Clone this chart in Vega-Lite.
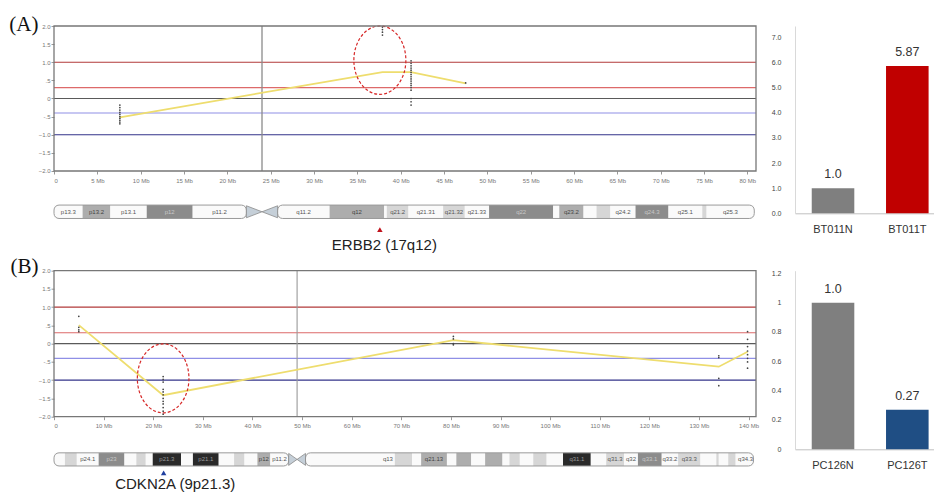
{
  "$schema": "https://vega.github.io/schema/vega-lite/v6.json",
  "padding": {"left": 8, "top": 13, "right": 0, "bottom": 0},
  "columns": 2,
  "bounds": "flush",
  "spacing": {"row": 16.7, "column": 39},
  "resolve": {"scale": {"color": "independent", "fill": "independent", "stroke": "independent", "shape": "independent", "x": "independent", "y": "independent"}},
  "config": {
    "view": {"stroke": null},
    "font": "Liberation Sans",
    "axis": {"grid": false}
  },
  "datasets": {
    "refLines": [
      {"v": 1.0, "kind": "gain2"}, {"v": 0.3, "kind": "gain1"}, {"v": 0, "kind": "zero"},
      {"v": -0.4, "kind": "loss1"}, {"v": -1.0, "kind": "loss2"}
    ],
    "ptsA": [
      {"pos": 7.6, "v": -0.18}, {"pos": 7.6, "v": -0.25}, {"pos": 7.6, "v": -0.32}, {"pos": 7.6, "v": -0.38},
      {"pos": 7.6, "v": -0.44}, {"pos": 7.6, "v": -0.5}, {"pos": 7.6, "v": -0.55}, {"pos": 7.6, "v": -0.6},
      {"pos": 7.6, "v": -0.65}, {"pos": 7.6, "v": -0.7},
      {"pos": 37.9, "v": 1.97}, {"pos": 37.9, "v": 1.9}, {"pos": 37.9, "v": 1.83}, {"pos": 37.9, "v": 1.75},
      {"pos": 41.2, "v": -0.18}, {"pos": 41.2, "v": -0.09}, {"pos": 41.2, "v": 0.0}, {"pos": 41.2, "v": 0.23},
      {"pos": 41.2, "v": 0.3}, {"pos": 41.2, "v": 0.36}, {"pos": 41.2, "v": 0.42}, {"pos": 41.2, "v": 0.48},
      {"pos": 41.2, "v": 0.54}, {"pos": 41.2, "v": 0.6}, {"pos": 41.2, "v": 0.66}, {"pos": 41.2, "v": 0.72},
      {"pos": 41.2, "v": 0.78}, {"pos": 41.2, "v": 0.84}, {"pos": 41.2, "v": 0.9}, {"pos": 41.2, "v": 0.97},
      {"pos": 41.2, "v": 1.04},
      {"pos": 47.5, "v": 0.43}
    ],
    "segA": [
      {"pos": 7.6, "v": -0.52}, {"pos": 37.9, "v": 0.73}, {"pos": 41.2, "v": 0.73}, {"pos": 47.5, "v": 0.42}
    ],
    "ptsB": [
      {"pos": 5.0, "v": 0.75}, {"pos": 5.0, "v": 0.45}, {"pos": 5.0, "v": 0.38}, {"pos": 5.0, "v": 0.33},
      {"pos": 22.0, "v": -0.9}, {"pos": 22.0, "v": -0.98}, {"pos": 22.0, "v": -1.05}, {"pos": 22.0, "v": -1.25},
      {"pos": 22.0, "v": -1.32}, {"pos": 22.0, "v": -1.4}, {"pos": 22.0, "v": -1.5}, {"pos": 22.0, "v": -1.58},
      {"pos": 22.0, "v": -1.65}, {"pos": 22.0, "v": -1.75}, {"pos": 22.0, "v": -1.85}, {"pos": 22.0, "v": -1.93},
      {"pos": 80.5, "v": 0.2}, {"pos": 80.5, "v": 0.13}, {"pos": 80.5, "v": 0.0}, {"pos": 80.5, "v": -0.03},
      {"pos": 134.0, "v": -0.33}, {"pos": 134.0, "v": -0.38}, {"pos": 134.0, "v": -0.95}, {"pos": 134.0, "v": -1.15},
      {"pos": 139.8, "v": 0.33}, {"pos": 139.8, "v": 0.12}, {"pos": 139.8, "v": -0.08}, {"pos": 139.8, "v": -0.2},
      {"pos": 139.8, "v": -0.3}, {"pos": 139.8, "v": -0.4}, {"pos": 139.8, "v": -0.5}, {"pos": 139.8, "v": -0.67}
    ],
    "segB": [
      {"pos": 5.0, "v": 0.51}, {"pos": 22.0, "v": -1.41}, {"pos": 80.5, "v": 0.1}, {"pos": 134.0, "v": -0.63}, {"pos": 139.8, "v": -0.22}
    ],
    "cenLineA": [{"pos": 24.0}],
    "cenLineB": [{"pos": 49.0}],
    "ellA": [{"pos": 37.6, "v": 1.057}],
    "ellB": [{"pos": 22.0, "v": -0.95}],
    "bandsA": [
      {"name": "p13.3", "start": 0, "end": 3.3, "mid": 1.65, "stain": "gneg", "label": "p13.3"},
      {"name": "p13.2", "start": 3.3, "end": 6.5, "mid": 4.9, "stain": "gpos50", "label": "p13.2"},
      {"name": "p13.1", "start": 6.5, "end": 10.7, "mid": 8.6, "stain": "gneg", "label": "p13.1"},
      {"name": "p12", "start": 10.7, "end": 16.0, "mid": 13.35, "stain": "gpos75", "label": "p12"},
      {"name": "p11.2", "start": 16.0, "end": 22.2, "mid": 19.1, "stain": "gneg", "label": "p11.2"},
      {"name": "q11.2", "start": 25.8, "end": 31.8, "mid": 28.8, "stain": "gneg", "label": "q11.2"},
      {"name": "q12", "start": 31.8, "end": 38.1, "mid": 34.95, "stain": "gpos50", "label": "q12"},
      {"name": "q21.1", "start": 38.1, "end": 38.4, "mid": 38.25, "stain": "gneg", "label": ""},
      {"name": "q21.2", "start": 38.4, "end": 40.9, "mid": 39.65, "stain": "gpos25", "label": "q21.2"},
      {"name": "q21.31", "start": 40.9, "end": 44.9, "mid": 42.9, "stain": "gneg", "label": "q21.31"},
      {"name": "q21.32", "start": 44.9, "end": 47.4, "mid": 46.15, "stain": "gpos25", "label": "q21.32"},
      {"name": "q21.33", "start": 47.4, "end": 50.2, "mid": 48.8, "stain": "gneg", "label": "q21.33"},
      {"name": "q22", "start": 50.2, "end": 57.6, "mid": 53.9, "stain": "gpos75", "label": "q22"},
      {"name": "q23.1", "start": 57.6, "end": 58.3, "mid": 57.95, "stain": "gneg", "label": ""},
      {"name": "q23.2", "start": 58.3, "end": 61.1, "mid": 59.7, "stain": "gpos50", "label": "q23.2"},
      {"name": "q23.3", "start": 61.1, "end": 62.6, "mid": 61.85, "stain": "gneg", "label": ""},
      {"name": "q24.1", "start": 62.6, "end": 64.2, "mid": 63.4, "stain": "gpos25", "label": ""},
      {"name": "q24.2", "start": 64.2, "end": 67.1, "mid": 65.65, "stain": "gneg", "label": "q24.2"},
      {"name": "q24.3", "start": 67.1, "end": 70.9, "mid": 69.0, "stain": "gpos75", "label": "q24.3"},
      {"name": "q25.1", "start": 70.9, "end": 74.8, "mid": 72.85, "stain": "gneg", "label": "q25.1"},
      {"name": "q25.2", "start": 74.8, "end": 75.3, "mid": 75.05, "stain": "gpos25", "label": ""},
      {"name": "q25.3", "start": 75.3, "end": 80.8, "mid": 78.05, "stain": "gneg", "label": "q25.3"}
    ],
    "armsA": [{"start": 0, "end": 22.2}, {"start": 25.8, "end": 80.8}],
    "cenA": [{"side": "p", "pos": 23.1}, {"side": "q", "pos": 24.9}],
    "geneA": [{"gene": "ERBB2 (17q12)", "pos": 37.6}],
    "bandsB": [
      {"name": "p24.3", "start": 0, "end": 2.2, "mid": 1.1, "stain": "gneg", "label": ""},
      {"name": "p24.2", "start": 2.2, "end": 4.6, "mid": 3.4, "stain": "gpos25", "label": ""},
      {"name": "p24.1", "start": 4.6, "end": 9.0, "mid": 6.8, "stain": "gneg", "label": "p24.1"},
      {"name": "p23", "start": 9.0, "end": 14.2, "mid": 11.6, "stain": "gpos75", "label": "p23"},
      {"name": "p22.3", "start": 14.2, "end": 16.6, "mid": 15.4, "stain": "gneg", "label": ""},
      {"name": "p22.2", "start": 16.6, "end": 18.5, "mid": 17.55, "stain": "gpos25", "label": ""},
      {"name": "p22.1", "start": 18.5, "end": 19.9, "mid": 19.2, "stain": "gneg", "label": ""},
      {"name": "p21.3", "start": 19.9, "end": 25.6, "mid": 22.75, "stain": "gpos100", "label": "p21.3"},
      {"name": "p21.2", "start": 25.6, "end": 28.0, "mid": 26.8, "stain": "gneg", "label": ""},
      {"name": "p21.1", "start": 28.0, "end": 33.2, "mid": 30.6, "stain": "gpos100", "label": "p21.1"},
      {"name": "p13.3", "start": 33.2, "end": 36.3, "mid": 34.75, "stain": "gneg", "label": ""},
      {"name": "p13.2", "start": 36.3, "end": 38.4, "mid": 37.35, "stain": "gpos25", "label": ""},
      {"name": "p13.1", "start": 38.4, "end": 41.0, "mid": 39.7, "stain": "gneg", "label": ""},
      {"name": "p12", "start": 41.0, "end": 43.6, "mid": 42.3, "stain": "gpos50", "label": "p12"},
      {"name": "p11.2", "start": 43.6, "end": 47.3, "mid": 45.45, "stain": "gneg", "label": "p11.2"},
      {"name": "q12", "start": 50.7, "end": 65.9, "mid": 58.3, "stain": "gneg", "label": ""},
      {"name": "q13", "start": 65.9, "end": 68.7, "mid": 67.3, "stain": "gneg", "label": "q13"},
      {"name": "q21.11", "start": 68.7, "end": 72.2, "mid": 70.45, "stain": "gpos25", "label": ""},
      {"name": "q21.12", "start": 72.2, "end": 74.0, "mid": 73.1, "stain": "gneg", "label": ""},
      {"name": "q21.13", "start": 74.0, "end": 79.2, "mid": 76.6, "stain": "gpos50", "label": "q21.13"},
      {"name": "q21.2", "start": 79.2, "end": 81.1, "mid": 80.15, "stain": "gneg", "label": ""},
      {"name": "q21.31", "start": 81.1, "end": 84.1, "mid": 82.6, "stain": "gpos50", "label": ""},
      {"name": "q21.32", "start": 84.1, "end": 86.9, "mid": 85.5, "stain": "gneg", "label": ""},
      {"name": "q21.33", "start": 86.9, "end": 90.4, "mid": 88.65, "stain": "gpos50", "label": ""},
      {"name": "q22.1", "start": 90.4, "end": 91.8, "mid": 91.1, "stain": "gneg", "label": ""},
      {"name": "q22.2", "start": 91.8, "end": 93.9, "mid": 92.85, "stain": "gpos25", "label": ""},
      {"name": "q22.31", "start": 93.9, "end": 96.6, "mid": 95.25, "stain": "gneg", "label": ""},
      {"name": "q22.32", "start": 96.6, "end": 99.3, "mid": 97.95, "stain": "gpos25", "label": ""},
      {"name": "q22.33", "start": 99.3, "end": 102.6, "mid": 100.95, "stain": "gneg", "label": ""},
      {"name": "q31.1", "start": 102.6, "end": 108.2, "mid": 105.4, "stain": "gpos100", "label": "q31.1"},
      {"name": "q31.2", "start": 108.2, "end": 111.3, "mid": 109.75, "stain": "gneg", "label": ""},
      {"name": "q31.3", "start": 111.3, "end": 114.9, "mid": 113.1, "stain": "gpos25", "label": "q31.3"},
      {"name": "q32", "start": 114.9, "end": 117.7, "mid": 116.3, "stain": "gneg", "label": "q32"},
      {"name": "q33.1", "start": 117.7, "end": 122.5, "mid": 120.1, "stain": "gpos75", "label": "q33.1"},
      {"name": "q33.2", "start": 122.5, "end": 125.8, "mid": 124.15, "stain": "gneg", "label": "q33.2"},
      {"name": "q33.3", "start": 125.8, "end": 130.3, "mid": 128.05, "stain": "gpos25", "label": "q33.3"},
      {"name": "q34.11", "start": 130.3, "end": 133.5, "mid": 131.9, "stain": "gneg", "label": ""},
      {"name": "q34.12", "start": 133.5, "end": 134.0, "mid": 133.75, "stain": "gpos25", "label": ""},
      {"name": "q34.13", "start": 134.0, "end": 135.9, "mid": 134.95, "stain": "gneg", "label": ""},
      {"name": "q34.2", "start": 135.9, "end": 137.4, "mid": 136.65, "stain": "gpos25", "label": ""},
      {"name": "q34.3", "start": 137.4, "end": 141.0, "mid": 139.4, "stain": "gneg", "label": "q34.3"}
    ],
    "armsB": [{"start": 0, "end": 47.3}, {"start": 50.7, "end": 141.0}],
    "cenB": [{"side": "p", "pos": 48.15}, {"side": "q", "pos": 49.85}],
    "geneB": [{"gene": "CDKN2A (9p21.3)", "pos": 22.1}],
    "barsA": [
      {"sample": "BT011N", "value": 1.0, "label": "1.0"},
      {"sample": "BT011T", "value": 5.87, "label": "5.87"}
    ],
    "barsB": [
      {"sample": "PC126N", "value": 1.0, "label": "1.0"},
      {"sample": "PC126T", "value": 0.27, "label": "0.27"}
    ]
  },
  "concat": [
    {
      "width": 702,
      "height": 228,
      "resolve": {"scale": {"fill": "independent", "stroke": "independent", "shape": "independent", "color": "independent"}},
      "encoding": {
        "x": {"type": "quantitative", "scale": {"domain": [0, 81], "nice": false, "zero": false},
          "axis": {"title": null, "values": [0,5,10,15,20,25,30,35,40,45,50,55,60,65,70,75,80],
            "labelExpr": "datum.value === 0 ? '0' : datum.value + ' Mb'", "domain": false, "offset": -83,
            "tickSize": 3, "tickColor": "#999", "labelFontSize": 6, "labelColor": "#777", "labelPadding": 3}},
        "y": {"type": "quantitative", "scale": {"domain": [-4.29, 2], "nice": false, "zero": false},
          "axis": {"title": "(A)", "values": [-2,-1.5,-1,-0.5,0,0.5,1,1.5,2],
            "labelExpr": "datum.value === 0 ? '0' : datum.value === 0.5 ? '.5' : datum.value === -0.5 ? '-.5' : format(datum.value, '.1f')",
            "domain": false, "tickSize": 3, "tickColor": "#999", "labelFontSize": 6, "labelColor": "#777", "labelPadding": 1,
            "titleAngle": 0, "titleFont": "Liberation Serif", "titleFontSize": 21, "titleFontWeight": "normal", "titleColor": "#111",
            "titleAlign": "right", "titleBaseline": "alphabetic", "titleX": -16, "titleY": 4.5}}
      },
      "layer": [
        {"data": {"name": "bandsA"}, "mark": {"type": "rect"},
          "encoding": {"x": {"field": "start"}, "x2": {"field": "end"}, "y": {"datum": -2.94}, "y2": {"datum": -3.31},
            "fill": {"field": "stain", "type": "nominal", "legend": null,
              "scale": {"domain": ["gneg","gpos25","gpos50","gpos75","gpos100"], "range": ["#fafafa","#d6d6d6","#adadad","#8c8c8c","#333333"]}}}},
        {"data": {"name": "bandsA"}, "mark": {"type": "text", "fontSize": 6, "baseline": "middle", "align": "center"},
          "encoding": {"x": {"field": "mid"}, "y": {"datum": -3.125}, "text": {"field": "label"},
            "color": {"field": "stain", "type": "nominal", "legend": null,
              "scale": {"domain": ["gneg","gpos25","gpos50","gpos75","gpos100"], "range": ["#555555","#555555","#444444","#c8c8c8","#999999"]}}}},
        {"data": {"name": "armsA"}, "mark": {"type": "rect", "fill": null, "stroke": "#9a9a9a", "strokeWidth": 1, "cornerRadius": 5},
          "encoding": {"x": {"field": "start"}, "x2": {"field": "end"}, "y": {"datum": -2.94}, "y2": {"datum": -3.31}}},
        {"data": {"name": "cenA"}, "mark": {"type": "point", "filled": true, "fill": "#c5cfd8", "stroke": "#8a8a8a", "strokeWidth": 0.8, "size": 243, "opacity": 1},
          "encoding": {"x": {"field": "pos"}, "y": {"datum": -3.125},
            "shape": {"field": "side", "type": "nominal", "legend": null,
              "scale": {"domain": ["p","q"], "range": ["M -1 -0.77 L 1 0 L -1 0.77 Z", "M 1 -0.77 L -1 0 L 1 0.77 Z"]}}}},
        {"data": {"name": "geneA"}, "mark": {"type": "point", "shape": "triangle-up", "filled": true, "color": "#c0121c", "size": 30, "opacity": 1},
          "encoding": {"x": {"field": "pos"}, "y": {"datum": -3.62}}},
        {"data": {"name": "geneA"}, "mark": {"type": "text", "fontSize": 15, "align": "center", "baseline": "alphabetic", "dx": 4.5, "color": "#222"},
          "encoding": {"x": {"field": "pos"}, "y": {"datum": -4.19}, "text": {"field": "gene"}}},
        {"data": {"name": "refLines"}, "mark": {"type": "rule", "strokeWidth": 1.2},
          "encoding": {"y": {"field": "v"},
            "stroke": {"field": "kind", "type": "nominal", "legend": null,
              "scale": {"domain": ["gain2","gain1","zero","loss1","loss2"], "range": ["#b23a3a","#dd6a6a","#5a5a5a","#8f8fe6","#33338a"]}}}},
        {"data": {"name": "cenLineA"}, "mark": {"type": "rule", "color": "#8a8a8a", "strokeWidth": 1.3},
          "encoding": {"x": {"field": "pos"}, "y": {"datum": 2}, "y2": {"datum": -2}}},
        {"data": {"name": "segA"}, "mark": {"type": "line", "color": "#eedd6e", "strokeWidth": 1.8},
          "encoding": {"x": {"field": "pos"}, "y": {"field": "v"}}},
        {"data": {"name": "ptsA"}, "mark": {"type": "point", "filled": true, "color": "#444", "size": 3, "opacity": 1},
          "encoding": {"x": {"field": "pos"}, "y": {"field": "v"}}},
        {"data": {"name": "ellA"}, "mark": {"type": "point", "filled": false, "color": "#d62828", "strokeWidth": 1.2, "strokeDash": [3, 2], "opacity": 1, "size": 4679,
            "shape": "M -0.76 0 A 0.76 1 0 1 1 0.76 0 A 0.76 1 0 1 1 -0.76 0 Z"},
          "encoding": {"x": {"field": "pos"}, "y": {"field": "v"}}},
        {"data": {"name": "cenLineA"}, "mark": {"type": "rect", "fill": null, "stroke": "#777", "strokeWidth": 1.3},
          "encoding": {"x": {"datum": 0}, "x2": {"datum": 81}, "y": {"datum": 2}, "y2": {"datum": -2}}}
      ]
    },
    {
      "width": 139,
      "height": 187.3,
      "data": {"name": "barsA"},
      "encoding": {
        "x": {"field": "sample", "type": "nominal", "sort": null,
          "scale": {"paddingInner": 0.427, "paddingOuter": 0.149, "align": 0.756},
          "axis": {"title": null, "labelAngle": 0, "labelFontSize": 11, "labelColor": "#333", "ticks": false, "domainColor": "#c0c0c0", "labelPadding": 10}},
        "y": {"field": "value", "type": "quantitative", "scale": {"domain": [0, 7.46], "nice": false},
          "axis": {"title": null, "values": [0,1,2,3,4,5,6,7], "format": ".1f", "labelFontSize": 7, "labelColor": "#444", "ticks": false, "domainColor": "#d9d9d9", "labelPadding": 14}}
      },
      "layer": [
        {"mark": {"type": "bar"},
          "encoding": {"color": {"field": "sample", "type": "nominal", "legend": null,
            "scale": {"domain": ["BT011N","BT011T"], "range": ["#7f7f7f","#c00000"]}}}},
        {"mark": {"type": "text", "fontSize": 12.5, "baseline": "alphabetic", "dy": -10, "color": "#333"},
          "encoding": {"text": {"field": "label"}}}
      ]
    },
    {
      "width": 702,
      "height": 225.2,
      "resolve": {"scale": {"fill": "independent", "stroke": "independent", "shape": "independent", "color": "independent"}},
      "encoding": {
        "x": {"type": "quantitative", "scale": {"domain": [0, 141.5], "nice": false, "zero": false},
          "axis": {"title": null, "values": [0,10,20,30,40,50,60,70,80,90,100,110,120,130,140],
            "labelExpr": "datum.value === 0 ? '0' : datum.value + ' Mb'", "domain": false, "offset": -79.2,
            "tickSize": 3, "tickColor": "#999", "labelFontSize": 6, "labelColor": "#777", "labelPadding": 3}},
        "y": {"type": "quantitative", "scale": {"domain": [-4.17, 2], "nice": false, "zero": false},
          "axis": {"title": "(B)", "values": [-2,-1.5,-1,-0.5,0,0.5,1,1.5,2],
            "labelExpr": "datum.value === 0 ? '0' : datum.value === 0.5 ? '.5' : datum.value === -0.5 ? '-.5' : format(datum.value, '.1f')",
            "domain": false, "tickSize": 3, "tickColor": "#999", "labelFontSize": 6, "labelColor": "#777", "labelPadding": 1,
            "titleAngle": 0, "titleFont": "Liberation Serif", "titleFontSize": 21, "titleFontWeight": "normal", "titleColor": "#111",
            "titleAlign": "right", "titleBaseline": "alphabetic", "titleX": -16, "titleY": 2}}
      },
      "layer": [
        {"data": {"name": "bandsB"}, "mark": {"type": "rect"},
          "encoding": {"x": {"field": "start"}, "x2": {"field": "end"}, "y": {"datum": -2.99}, "y2": {"datum": -3.35},
            "fill": {"field": "stain", "type": "nominal", "legend": null,
              "scale": {"domain": ["gneg","gpos25","gpos50","gpos75","gpos100"], "range": ["#fafafa","#d6d6d6","#adadad","#8c8c8c","#2a2a2a"]}}}},
        {"data": {"name": "bandsB"}, "mark": {"type": "text", "fontSize": 6, "baseline": "middle", "align": "center"},
          "encoding": {"x": {"field": "mid"}, "y": {"datum": -3.17}, "text": {"field": "label"},
            "color": {"field": "stain", "type": "nominal", "legend": null,
              "scale": {"domain": ["gneg","gpos25","gpos50","gpos75","gpos100"], "range": ["#555555","#555555","#444444","#c8c8c8","#999999"]}}}},
        {"data": {"name": "armsB"}, "mark": {"type": "rect", "fill": null, "stroke": "#9a9a9a", "strokeWidth": 1, "cornerRadius": 5},
          "encoding": {"x": {"field": "start"}, "x2": {"field": "end"}, "y": {"datum": -2.99}, "y2": {"datum": -3.35}}},
        {"data": {"name": "cenB"}, "mark": {"type": "point", "filled": true, "fill": "#c5cfd8", "stroke": "#8a8a8a", "strokeWidth": 0.8, "size": 71, "opacity": 1},
          "encoding": {"x": {"field": "pos"}, "y": {"datum": -3.17},
            "shape": {"field": "side", "type": "nominal", "legend": null,
              "scale": {"domain": ["p","q"], "range": ["M -1 -1.42 L 1 0 L -1 1.42 Z", "M 1 -1.42 L -1 0 L 1 1.42 Z"]}}}},
        {"data": {"name": "geneB"}, "mark": {"type": "point", "shape": "triangle-up", "filled": true, "color": "#1f3f9f", "size": 30, "opacity": 1},
          "encoding": {"x": {"field": "pos"}, "y": {"datum": -3.54}}},
        {"data": {"name": "geneB"}, "mark": {"type": "text", "fontSize": 15, "align": "center", "baseline": "alphabetic", "dx": 11.6, "color": "#222"},
          "encoding": {"x": {"field": "pos"}, "y": {"datum": -3.98}, "text": {"field": "gene"}}},
        {"data": {"name": "refLines"}, "mark": {"type": "rule", "strokeWidth": 1.2},
          "encoding": {"y": {"field": "v"},
            "stroke": {"field": "kind", "type": "nominal", "legend": null,
              "scale": {"domain": ["gain2","gain1","zero","loss1","loss2"], "range": ["#b23a3a","#dd6a6a","#5a5a5a","#8f8fe6","#33338a"]}}}},
        {"data": {"name": "cenLineB"}, "mark": {"type": "rule", "color": "#9a9a9a", "strokeWidth": 1.1},
          "encoding": {"x": {"field": "pos"}, "y": {"datum": 2}, "y2": {"datum": -2}}},
        {"data": {"name": "segB"}, "mark": {"type": "line", "color": "#eedd6e", "strokeWidth": 1.8},
          "encoding": {"x": {"field": "pos"}, "y": {"field": "v"}}},
        {"data": {"name": "ptsB"}, "mark": {"type": "point", "filled": true, "color": "#444", "size": 3, "opacity": 1},
          "encoding": {"x": {"field": "pos"}, "y": {"field": "v"}}},
        {"data": {"name": "ellB"}, "mark": {"type": "point", "filled": false, "color": "#d62828", "strokeWidth": 1.2, "strokeDash": [3, 2], "opacity": 1, "size": 4761,
            "shape": "M -0.748 0 A 0.748 1 0 1 1 0.748 0 A 0.748 1 0 1 1 -0.748 0 Z"},
          "encoding": {"x": {"field": "pos"}, "y": {"field": "v"}}},
        {"data": {"name": "cenLineB"}, "mark": {"type": "rect", "fill": null, "stroke": "#777", "strokeWidth": 1.3},
          "encoding": {"x": {"datum": 0}, "x2": {"datum": 141.5}, "y": {"datum": 2}, "y2": {"datum": -2}}}
      ]
    },
    {
      "width": 139,
      "height": 178.6,
      "data": {"name": "barsB"},
      "encoding": {
        "x": {"field": "sample", "type": "nominal", "sort": null,
          "scale": {"paddingInner": 0.427, "paddingOuter": 0.149, "align": 0.756},
          "axis": {"title": null, "labelAngle": 0, "labelFontSize": 11, "labelColor": "#333", "ticks": false, "domainColor": "#c0c0c0", "labelPadding": 10}},
        "y": {"field": "value", "type": "quantitative", "scale": {"domain": [0, 1.2177], "nice": false},
          "axis": {"title": null, "values": [0,0.2,0.4,0.6,0.8,1,1.2], "format": "~g", "labelFontSize": 7, "labelColor": "#444", "ticks": false, "domainColor": "#d9d9d9", "labelPadding": 14}}
      },
      "layer": [
        {"mark": {"type": "bar"},
          "encoding": {"color": {"field": "sample", "type": "nominal", "legend": null,
            "scale": {"domain": ["PC126N","PC126T"], "range": ["#7f7f7f","#1f4e84"]}}}},
        {"mark": {"type": "text", "fontSize": 12.5, "baseline": "alphabetic", "dy": -10, "color": "#333"},
          "encoding": {"text": {"field": "label"}}}
      ]
    }
  ]
}
